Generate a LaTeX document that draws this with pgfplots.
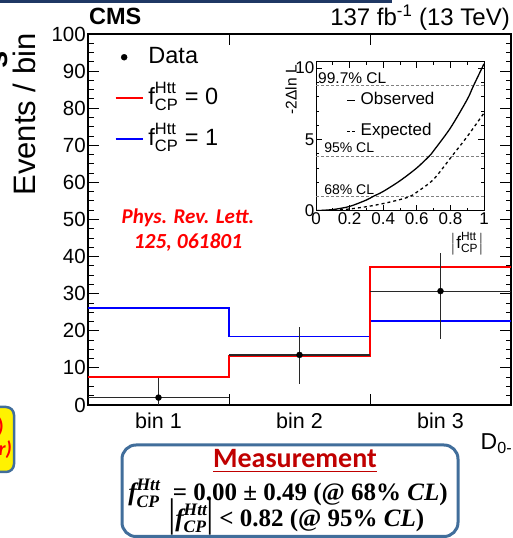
\documentclass[border=0pt]{standalone}
\usepackage{pgfplots}
\pgfplotsset{compat=1.18}
\usepackage{amsmath}
\usepackage{fontspec}
\setmainfont{Liberation Sans}
\newfontfamily\calibri{Carlito}
\newfontfamily\serif{Liberation Serif}
\definecolor{navy}{RGB}{31,56,100}
\definecolor{boxblue}{RGB}{65,110,155}
\definecolor{darkred}{RGB}{192,0,0}
\definecolor{ebar}{RGB}{40,40,40}
\newcommand{\fs}[1]{\fontsize{#1}{#1}\selectfont}
\newcommand{\fcp}{\text{f}^{\text{Htt}}_{\text{CP}}}
\newcommand{\fcpb}{$\text{\itshape f}^{\text{\itshape Htt}}_{\text{\itshape CP}}$}
\begin{document}
\begin{tikzpicture}[x=1pt,y=1pt]
\useasboundingbox (0,0) rectangle (512,538);
\clip (0,0) rectangle (512,538);
\fill[navy] (0,535.3) rectangle (392,538);
\node[anchor=base west, inner sep=0pt, font=\bfseries\fs{23.5}] at (89,513) {CMS};
\node[anchor=base east, inner sep=0pt, font=\fs{24}] at (510,512) {137 fb$^{\text{-1}}$ (13 TeV)};
\node[rotate=90, inner sep=0pt, font=\bfseries\fs{31}] at (-1,478) {s};
% yellow box at left
\draw[boxblue, line width=2.5pt, fill=yellow, rounded corners=8pt] (-60,66) rectangle (14,131);
\node[anchor=base east, inner sep=0pt, text=red, font=\calibri\bfseries\fs{20}] at (4,105) {0)};
\node[anchor=base east, inner sep=0pt, text=red, font=\calibri\bfseries\itshape\fs{20}] at (12,82) {r)};

\begin{axis}[
  at={(88pt,133pt)}, anchor=south west,
  scale only axis, width=423pt, height=371pt,
  xmin=0, xmax=3, ymin=0, ymax=100,
  axis line style={line width=1.1pt},
  xtick={1,2}, xticklabels={},
  extra x ticks={0.5,1.5,2.5}, extra x tick labels={bin 1,bin 2,bin 3},
  extra x tick style={major tick length=0pt, xticklabel style={font=\fs{21.5}, yshift=-4pt}},
  ytick={0,10,...,100}, minor y tick num=3,
  tick align=inside,
  major tick length=11pt, minor tick length=5.5pt,
  tick style={black, line width=0.9pt},
  ticklabel style={font=\fs{20.5}},
  yticklabel style={inner sep=2pt},
  /pgf/number format/assume math mode=true,
  ylabel={Events / bin},
  every axis y label/.style={at={(axis description cs:-0.151,1.011)}, rotate=90, anchor=east, font=\fs{31}},
  xlabel={D$_{\text{0-}}$},
  every axis x label/.style={at={(axis description cs:0.92,-0.121)}, anchor=base west, font=\fs{23}},
  legend style={at={(axis description cs:0.063,0.981)}, anchor=north west, draw=none, fill=none,
    font=\fs{23.5}, inner sep=0pt, row sep=9pt, column sep=5pt,
    nodes={inner sep=0pt, text height=22pt, text depth=10pt}},
  legend cell align=left,
  reverse legend,
]
\addplot[blue, line width=1.5pt, const plot, legend image code/.code={\draw[draw=blue,line width=1.6pt] (0pt,0pt)--(27pt,0pt);}]
  coordinates {(0,26.2) (1,18.4) (2,22.6) (3,22.6)};
\addlegendentry{$\fcp$ = 1}
\addplot[red, line width=1.5pt, const plot, legend image code/.code={\draw[draw=red,line width=1.6pt] (0pt,0pt)--(27pt,0pt);}]
  coordinates {(0,7.6) (1,13.2) (2,37.2) (3,37.2)};
\addlegendentry{$\fcp$ = 0}
\addplot[ebar, only marks, mark=*, mark size=3pt, mark options={fill=black, draw=black},
  error bars/.cd, x dir=both, x explicit, y dir=both, y explicit, error mark=none,
  error bar style={line width=1.2pt, ebar}]
  coordinates {
    (0.5,2.0) += (0.5,5.2) -= (0.5,2.0)
    (1.5,13.5) += (0.5,7.5) -= (0.5,7.8)
    (2.5,30.7) += (0.5,10.3) -= (0.5,12.9)
  };
\addlegendentry{Data}
\end{axis}

\begin{axis}[
  at={(316pt,327.3pt)}, anchor=south west,
  scale only axis, width=168pt, height=149pt,
  xmin=0, xmax=1, ymin=0, ymax=10.45,
  axis background/.style={fill=white},
  axis line style={line width=1pt},
  xtick={0,0.2,0.4,0.6,0.8,1}, minor x tick num=1,
  ytick={0,5,10}, minor y tick num=4,
  tick align=inside,
  major tick length=6pt, minor tick length=3pt,
  tick style={black, line width=0.7pt},
  ticklabel style={font=\fs{17}, inner sep=1.5pt},
  /pgf/number format/assume math mode=true,
  ylabel={-2Δln L},
  every axis y label/.style={at={(axis description cs:-0.149,1.0)}, rotate=90, anchor=east, font=\fs{15.5}},
  xlabel={$\bigl|\fcp\bigr|$},
  every axis x label/.style={at={(axis description cs:1,-0.145)}, anchor=north east, inner sep=0pt, font=\fs{17}},
  legend style={at={(axis description cs:0.18,0.80)}, anchor=north west, draw=none, fill=none,
    font=\fs{17}, inner sep=0pt, row sep=14pt, column sep=5pt,
    nodes={inner sep=0pt, text height=13pt, text depth=4pt}},
  legend cell align=left,
]
\addplot[gray, line width=0.8pt, dash pattern=on 3pt off 2pt, forget plot] coordinates {(0,1) (1,1)};
\addplot[gray, line width=0.8pt, dash pattern=on 3pt off 2pt, forget plot] coordinates {(0,3.84) (1,3.84)};
\addplot[gray, line width=0.8pt, dash pattern=on 3pt off 2pt, forget plot] coordinates {(0,8.8) (1,8.8)};
\addplot[black, line width=1.3pt, smooth, legend image code/.code={\draw[black,line width=1.3pt] (0pt,0pt)--(8pt,0pt);}]
  coordinates {(0,0) (0.1,0.08) (0.2,0.3) (0.3,0.75) (0.34,1.0) (0.4,1.35) (0.5,2.1) (0.6,3.0) (0.675,3.84) (0.7,4.2) (0.8,5.8) (0.9,7.8) (0.935,8.7) (1,10.3)};
\addlegendentry{Observed}
\addplot[black, line width=1.3pt, dash pattern=on 3pt off 3pt, smooth, legend image code/.code={\draw[black,line width=1.3pt,dash pattern=on 3pt off 2pt] (0pt,0pt)--(8pt,0pt);}]
  coordinates {(0,0) (0.1,0.03) (0.2,0.12) (0.3,0.28) (0.4,0.5) (0.5,0.78) (0.56,1.0) (0.6,1.3) (0.7,2.2) (0.81,3.84) (0.9,5.2) (1,6.85)};
\addlegendentry{Expected}
\node[anchor=base west, inner sep=0pt, font=\fs{15.5}] at (axis cs:0.012,8.8) [yshift=1.5pt] {99.7\% CL};
\node[anchor=base west, inner sep=0pt, font=\fs{14}] at (axis cs:0.048,3.84) [yshift=3pt] {95\% CL};
\node[anchor=base west, inner sep=0pt, font=\fs{14}] at (axis cs:0.048,1) [yshift=2.4pt] {68\% CL};
\end{axis}

\node[text=red, font=\calibri\bfseries\itshape\fs{21}] at (188,320) {Phys. Rev. Lett.};
\node[text=red, font=\calibri\bfseries\itshape\fs{21.5}] at (188,295) {125, 061801};

% measurement box
\draw[boxblue, line width=3pt, rounded corners=14pt, fill=white] (122,1.5) rectangle (458,93);
\node[anchor=base, inner sep=0pt, text=darkred, font=\calibri\bfseries\fs{28}] at (295,70) {\underline{Measurement}};
\node[anchor=base, inner sep=0pt, font=\serif\bfseries\fs{25}] at (288,37) {\fcpb\enspace= 0.00 ± 0.49 (@ 68\% \textit{CL})};
\node[anchor=base, inner sep=0pt, font=\serif\bfseries\fs{25}] at (297,12) {\scalebox{1}[1.6]{|}\fcpb\scalebox{1}[1.6]{|} < 0.82 (@ 95\% \textit{CL})};
\end{tikzpicture}
\end{document}
